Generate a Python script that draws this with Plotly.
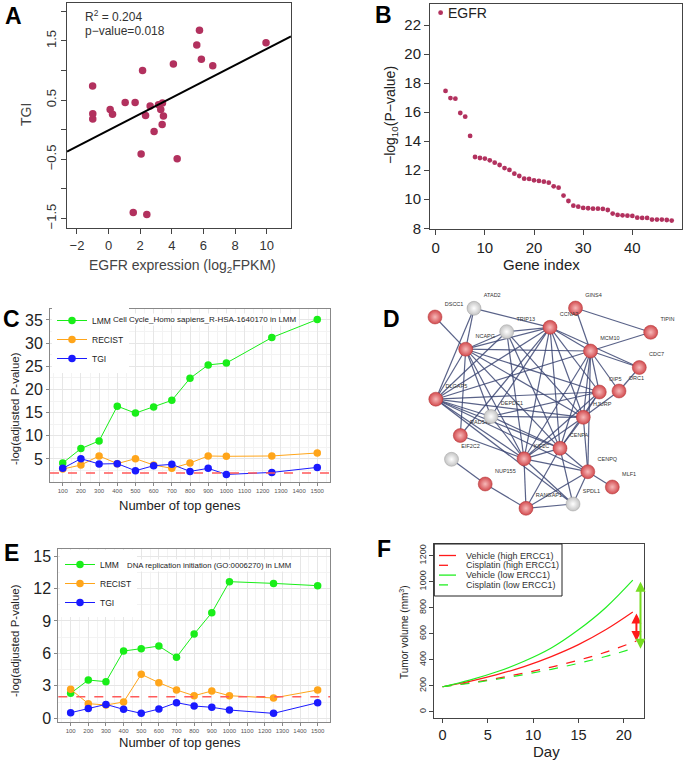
import numpy as np
import plotly.graph_objects as go

FONT = "Liberation Sans, Arial, sans-serif"
W, H = 685, 761

# ---------------- Panel A data ----------------
A_egfr = [5.75, 5.58, 9.96, 5.87, 6.59, 4.10, 2.15, -1.01, -1.00, -1.00, 0.10, 0.25, 1.05,
          1.68, 2.63, 2.34, 3.16, 3.30, 3.41, 3.47, 3.39, 2.88, 2.06, 4.34, 1.56, 2.42]
A_tgi = [1.68, 1.43, 1.47, 1.19, 1.08, 1.11, 1.00, 0.74, 0.27, 0.18, 0.34, 0.26, 0.46,
         0.46, 0.40, 0.24, 0.42, 0.34, 0.45, 0.23, 0.09, -0.03, -0.41, -0.49, -1.40, -1.43]
A_r2 = 0.204
A_p = 0.018
A_xticks = [-2, 0, 2, 4, 6, 8, 10]
A_yticks = [-1.5, -0.5, 0.5, 1.5]
A_yminor = [-1.0, 0.0, 1.0, 2.0]

# ---------------- Panel B data ----------------
B_logp = [22.85, 17.46, 16.97, 16.93, 15.94, 15.69, 14.36, 12.91, 12.84, 12.80, 12.68, 12.52,
          12.36, 12.15, 12.02, 11.76, 11.60, 11.42, 11.40, 11.30, 11.26, 11.21, 11.14, 10.89,
          10.80, 10.25, 9.88, 9.56, 9.49, 9.40, 9.38, 9.35, 9.35, 9.33, 9.26, 9.01, 8.92,
          8.89, 8.87, 8.85, 8.73, 8.71, 8.71, 8.60, 8.60, 8.60, 8.57, 8.53]
B_index = list(range(1, len(B_logp) + 1))
B_top_gene = "EGFR"

# ---------------- Panel C / E data ----------------
top_genes = [100, 200, 300, 400, 500, 600, 700, 800, 900, 1000, 1250, 1500]
C_lmm = [4.13, 7.24, 8.9, 16.4, 14.9, 16.2, 17.65, 22.4, 25.3, 25.7, 31.2, 35.1]
C_recist = [2.83, 3.7, 5.65, 4.0, 5.07, 3.7, 2.98, 4.13, 5.65, 5.58, 5.65, 6.3]
C_tgi = [2.98, 5.07, 3.92, 4.0, 2.47, 3.55, 3.84, 2.32, 2.98, 1.67, 2.1, 3.19]
C_title = "Cell Cycle_Homo sapiens_R-HSA-1640170 in LMM"

E_lmm = [2.31, 3.54, 3.39, 6.22, 6.44, 6.68, 5.64, 7.79, 9.76, 12.63, 12.47, 12.26]
E_recist = [2.68, 1.36, 1.23, 1.51, 4.07, 3.30, 2.62, 2.09, 2.53, 2.09, 1.88, 2.62]
E_tgi = [0.52, 0.92, 1.29, 0.83, 0.46, 0.86, 1.45, 1.14, 1.02, 0.77, 0.46, 1.45]
E_title = "DNA replication initiation (GO:0006270) in LMM"
threshold = 2.0

# ---------------- Panel D data (network) ----------------
D_nodes = ["DSCC1", "ATAD2", "GINS4", "TRIP13", "CCNA2", "TIPIN", "NCAPG", "MCM10", "CDC7",
           "DLGAP5", "ORC1", "OIP5", "DEPDC1", "HJURP", "RAD54L", "CENPA", "KIF2C", "EIF2C2",
           "CENPQ", "NUP155", "MLF1", "RANGAP1", "SPDL1"]
D_x = [435, 474, 575.5, 506.7, 550, 650.7, 465.7, 590.5, 639.3, 435.8, 619, 599.3, 491,
       583.3, 460.3, 560, 524, 451.5, 587.8, 485.2, 612.3, 526, 573]
D_y = [317, 308.3, 308, 331.7, 327.3, 332.3, 349.2, 351, 367.5, 399.2, 391, 392, 416.5,
       417.3, 435.5, 448.3, 458.8, 459.3, 471.7, 484, 487, 508.3, 504]
D_grey = ["ATAD2", "TRIP13", "DEPDC1", "EIF2C2", "SPDL1"]
D_edges = [
    ("DSCC1", "NCAPG"), ("ATAD2", "NCAPG"), ("ATAD2", "DLGAP5"), ("ATAD2", "CCNA2"),
    ("GINS4", "MCM10"), ("GINS4", "TIPIN"), ("TIPIN", "MCM10"), ("MCM10", "CDC7"),
    ("CCNA2", "CDC7"), ("CDC7", "ORC1"), ("ORC1", "MCM10"), ("ORC1", "HJURP"),
    ("OIP5", "MCM10"), ("EIF2C2", "NUP155"), ("NUP155", "RANGAP1"), ("RANGAP1", "SPDL1"),
    ("RANGAP1", "KIF2C"), ("RANGAP1", "CENPQ"), ("RANGAP1", "CENPA"), ("SPDL1", "KIF2C"),
    ("SPDL1", "CENPA"), ("SPDL1", "CENPQ"), ("SPDL1", "DLGAP5"), ("MLF1", "CENPQ"),
    ("CENPQ", "HJURP"), ("CENPQ", "CENPA"), ("CENPQ", "KIF2C"), ("CENPQ", "MCM10"),
    ("CENPQ", "DLGAP5"), ("RAD54L", "KIF2C"), ("RAD54L", "NCAPG"), ("RAD54L", "CCNA2"),
    ("DLGAP5", "KIF2C"), ("DLGAP5", "CENPA"), ("DLGAP5", "HJURP"), ("DLGAP5", "OIP5"),
    ("DLGAP5", "CCNA2"), ("DLGAP5", "MCM10"), ("DLGAP5", "NCAPG"), ("DLGAP5", "DEPDC1"),
    ("DLGAP5", "TRIP13"), ("NCAPG", "CCNA2"), ("NCAPG", "MCM10"), ("NCAPG", "OIP5"),
    ("NCAPG", "HJURP"), ("NCAPG", "CENPA"), ("NCAPG", "KIF2C"), ("NCAPG", "DEPDC1"),
    ("NCAPG", "TRIP13"), ("CCNA2", "MCM10"), ("CCNA2", "OIP5"), ("CCNA2", "HJURP"),
    ("CCNA2", "CENPA"), ("CCNA2", "KIF2C"), ("CCNA2", "DEPDC1"), ("CCNA2", "TRIP13"),
    ("TRIP13", "KIF2C"), ("TRIP13", "CENPA"), ("TRIP13", "HJURP"), ("MCM10", "KIF2C"),
    ("MCM10", "CENPA"), ("MCM10", "HJURP"), ("OIP5", "KIF2C"), ("OIP5", "CENPA"),
    ("OIP5", "HJURP"), ("OIP5", "DEPDC1"), ("HJURP", "KIF2C"), ("HJURP", "CENPA"),
    ("HJURP", "DEPDC1"), ("KIF2C", "CENPA"), ("KIF2C", "DEPDC1"), ("DEPDC1", "CENPA"),
]

# ---------------- Panel F data ----------------
F_day = [0, 3, 6, 9, 12, 15, 18, 21]
F_veh_high = [192, 234, 285, 347, 424, 516, 630, 767]
F_veh_low = [192, 243, 307, 388, 490, 630, 800, 1012]
F_cis_low = [192, 219, 250, 286, 326, 372, 425, 485]
F_day_cis_high = [0, 3, 6, 9, 12, 15, 18, 21.4]
F_cis_high = [192, 222, 257, 297, 343, 396, 458, 544]


def px(x):
    return x / W


def py(y):
    return 1 - y / H


fig = go.Figure()

# ---------- A ----------
fig.add_trace(go.Scatter(x=A_egfr, y=A_tgi, mode="markers", xaxis="x", yaxis="y",
                         marker=dict(color="#b2315e", size=7.5), showlegend=False))
A_xr = [-2.63, 11.54]
slope, intercept = np.polyfit(A_egfr, A_tgi, 1)
fig.add_trace(go.Scatter(x=A_xr, y=[intercept + slope * v for v in A_xr], mode="lines",
                         xaxis="x", yaxis="y", line=dict(color="black", width=2),
                         showlegend=False))

# ---------- B ----------
fig.add_trace(go.Scatter(x=B_index, y=B_logp, mode="markers", xaxis="x2", yaxis="y2",
                         marker=dict(color="#b2315e", size=4.8), showlegend=False))

# ---------- C & E ----------
series_cols = {"LMM": "#19ee19", "RECIST": "#ffa51a", "TGI": "#1a1aff"}
for name, vals in [("LMM", C_lmm), ("RECIST", C_recist), ("TGI", C_tgi)]:
    fig.add_trace(go.Scatter(x=top_genes, y=vals, mode="lines+markers", name=name,
                             xaxis="x3", yaxis="y3", legend="legend",
                             line=dict(color=series_cols[name], width=1),
                             marker=dict(color=series_cols[name], size=7.5)))
for name, vals in [("LMM", E_lmm), ("RECIST", E_recist), ("TGI", E_tgi)]:
    fig.add_trace(go.Scatter(x=top_genes, y=vals, mode="lines+markers", name=name,
                             xaxis="x5", yaxis="y5", legend="legend2",
                             line=dict(color=series_cols[name], width=1),
                             marker=dict(color=series_cols[name], size=7.5)))

# ---------- D ----------
pos = {n: (x, y) for n, x, y in zip(D_nodes, D_x, D_y)}
ex, ey = [], []
for a, b in D_edges:
    ex += [pos[a][0], pos[b][0], None]
    ey += [pos[a][1], pos[b][1], None]
fig.add_trace(go.Scatter(x=ex, y=ey, mode="lines", xaxis="x4", yaxis="y4",
                         line=dict(color="rgba(60,70,115,0.85)", width=1.2),
                         showlegend=False, hoverinfo="skip", cliponaxis=False))
for grey in [False, True]:
    sel = [i for i, n in enumerate(D_nodes) if (n in D_grey) == grey]
    fig.add_trace(go.Scatter(
        x=[D_x[i] for i in sel], y=[D_y[i] for i in sel], text=[D_nodes[i] for i in sel],
        mode="markers+text", textposition="top right", xaxis="x4", yaxis="y4",
        textfont=dict(size=5.5, color="#333333"), cliponaxis=False,
        marker=dict(size=14, color="#c4c4c4" if grey else "#d24a4e",
                    gradient=dict(type="radial", color="#ffffff" if grey else "#f7b9b9"),
                    line=dict(width=0.5, color="#a0a0a0" if grey else "#b03535")),
        showlegend=False))

# ---------- F ----------
F_series = [
    ("Vehicle (high ERCC1)", F_day, F_veh_high, "#ff1a1a", "solid"),
    ("Cisplatin (high ERCC1)", F_day_cis_high, F_cis_high, "#ff1a1a", "dash"),
    ("Vehicle (low ERCC1)", F_day, F_veh_low, "#22ee22", "solid"),
    ("Cisplatin (low ERCC1)", F_day, F_cis_low, "#22ee22", "dash"),
]
for name, xd, yd, col, dash in F_series:
    fig.add_trace(go.Scatter(x=xd, y=yd, mode="lines", name=name, xaxis="x6", yaxis="y6",
                             showlegend=False, line=dict(color=col, dash=dash, width=1.2,
                                                         shape="spline")))

# ---------- axes ----------
rstyle = dict(showline=True, mirror=True, linecolor="#444444", linewidth=1, ticks="outside",
              ticklen=5, tickcolor="#444444", showgrid=False, zeroline=False,
              automargin=False, tickfont=dict(size=13, color="#333333", family=FONT))
gstyle = dict(showline=True, mirror=True, linecolor="#888888", linewidth=1, ticks="outside",
              ticklen=3, tickcolor="#888888", showgrid=True, gridcolor="#e6e6e6",
              gridwidth=0.8, zeroline=False, automargin=False)

layout = dict(
    width=W, height=H, margin=dict(l=0, r=0, t=0, b=0), autosize=False,
    paper_bgcolor="white", plot_bgcolor="white", font=dict(family=FONT, color="#222222"),
    xaxis=dict(domain=[px(67), px(291)], range=A_xr, anchor="y", tickvals=A_xticks,
               ticktext=[str(v).replace("-", "\u2212") for v in A_xticks], **rstyle),
    yaxis=dict(domain=[py(228), py(3)], range=[-1.66, 2.14], anchor="x", tickvals=A_yticks,
               ticktext=[("%.1f" % v).replace("-", "\u2212") for v in A_yticks], tickangle=-90,
               minor=dict(tickvals=A_yminor, ticks="outside", ticklen=5, tickcolor="#444444"),
               **rstyle),
    xaxis2=dict(domain=[px(430), px(682)], range=[-1.16, 50.1], anchor="y2",
                tickvals=[0, 10, 20, 30, 40], **{**rstyle, "tickfont": dict(size=15, color="#222222")}),
    yaxis2=dict(domain=[py(229), py(4)], range=[7.95, 23.45], anchor="x2",
                tickvals=list(range(8, 23, 2)), **{**rstyle, "tickfont": dict(size=15, color="#222222")}),
    xaxis3=dict(domain=[px(50), px(330)], range=[30, 1570], anchor="y3", tickmode="linear",
                tick0=100, dtick=100, tickfont=dict(size=6, color="#555555"),
                minor=dict(dtick=50, tick0=0, showgrid=True, gridcolor="#f3f3f3", gridwidth=0.6),
                **gstyle),
    yaxis3=dict(domain=[py(481.7), py(309.3)], range=[0.1, 37.3], anchor="x3", tickmode="linear",
                tick0=0, dtick=5, tickfont=dict(size=16, color="#222222"),
                minor=dict(dtick=2.5, tick0=0, showgrid=True, gridcolor="#f3f3f3", gridwidth=0.6),
                **gstyle),
    xaxis4=dict(domain=[px(400), px(680)], range=[400, 680], anchor="y4", visible=False),
    yaxis4=dict(domain=[py(530), py(295)], range=[530, 295], anchor="x4", visible=False),
    xaxis5=dict(domain=[px(58.3), px(330)], range=[30, 1570], anchor="y5", tickmode="linear",
                tick0=100, dtick=100, tickfont=dict(size=6, color="#555555"),
                minor=dict(dtick=50, tick0=0, showgrid=True, gridcolor="#f3f3f3", gridwidth=0.6),
                **gstyle),
    yaxis5=dict(domain=[py(721.7), py(549.3)], range=[-0.31, 15.62], anchor="x5", tickmode="linear",
                tick0=0, dtick=3, tickfont=dict(size=16, color="#222222"),
                minor=dict(dtick=1.5, tick0=0, showgrid=True, gridcolor="#f3f3f3", gridwidth=0.6),
                **gstyle),
    xaxis6=dict(domain=[px(434.3), px(644.3)], range=[-0.91, 22.27], anchor="y6",
                tickvals=[0, 5, 10, 15, 20],
                **{**rstyle, "ticklen": 4, "tickfont": dict(size=14.5, color="#222222")}),
    yaxis6=dict(domain=[py(717.7), py(544)], range=[-46, 1290], anchor="x6",
                tickvals=list(range(0, 1201, 200)), tickangle=-90,
                **{**rstyle, "ticklen": 4, "tickfont": dict(size=9, color="#333333")}),
    legend=dict(x=px(52), y=py(306), xanchor="left", yanchor="top", bgcolor="white",
                font=dict(size=8.5, color="#222222"), tracegroupgap=0, itemwidth=30),
    legend2=dict(x=px(60), y=py(550), xanchor="left", yanchor="top", bgcolor="white",
                 font=dict(size=8.5, color="#222222"), tracegroupgap=0, itemwidth=30),
)
fig.update_layout(**layout)

# threshold lines
for xa, ya in [("x3", "y3"), ("x5", "y5")]:
    fig.add_shape(type="line", xref=xa + " domain", yref=ya, x0=0, x1=1, y0=threshold,
                  y1=threshold, line=dict(color="#ff5a5a", width=1.5, dash="dash"))

ann = []


def text(x, y, s, size, rot=0, color="#222222", bold=False, xanchor="center", bg=None):
    d = dict(x=px(x), y=py(y), xref="paper", yref="paper", text=("<b>%s</b>" % s) if bold else s,
             showarrow=False, textangle=rot, xanchor=xanchor, yanchor="middle",
             font=dict(size=size, color=color, family=FONT))
    if bg:
        d["bgcolor"] = bg
    ann.append(d)


# F legend (compact key, drawn as a boxed key with line samples)
fig.add_shape(type="rect", xref="paper", yref="paper", x0=px(434.3), x1=px(562),
              y0=py(596), y1=py(544), fillcolor="white", line=dict(color="#222222", width=1),
              layer="above")
for k, (name, xd, yd, col, dash) in enumerate(F_series):
    yy = 555.5 + k * 9.8
    fig.add_shape(type="line", xref="paper", yref="paper", x0=px(439), x1=px(456),
                  y0=py(yy), y1=py(yy), line=dict(color=col, dash=dash, width=1.3),
                  layer="above")
    text(464, yy, name, 9, xanchor="left", color="#333333")

# panel letters
for lab, x, y in [("A", 13, 16), ("B", 383, 15), ("C", 11, 319), ("D", 391, 319),
                  ("E", 11, 553), ("F", 384, 549)]:
    text(x, y, lab, 23, bold=True, color="black")

# A texts
text(83, 16, "R<sup>2</sup> = %.3f" % A_r2, 12, xanchor="left", color="#333333")
text(83, 31, "p\u2212value=%.3f" % A_p, 12, xanchor="left", color="#333333")
text(183, 266, "EGFR expression (log<sub>2</sub>FPKM)", 14, color="#444444")
text(26, 115, "TGI", 14, rot=-90, color="#444444")
# B texts
ann.append(dict(x=B_index[0], y=B_logp[0], xref="x2", yref="y2", text=B_top_gene,
                showarrow=False, xanchor="left", yanchor="middle", xshift=5,
                font=dict(size=14, color="#222222", family=FONT)))
text(541, 264, "Gene index", 15)
text(391, 115, "\u2212log<sub>10</sub>(P\u2212value)", 14, rot=-90)
# C texts
text(205, 320, C_title, 8, bg="white")
text(180, 506, "Number of top genes", 13)
text(15, 409, "-log(adjusted P-value)", 11.5, rot=-90)
# E texts
text(209, 565, E_title, 7.8, bg="white")
text(180, 742, "Number of top genes", 13)
text(15, 641, "-log(adjusted P-value)", 11.5, rot=-90)
# F texts
text(546, 751, "Day", 15)
text(404, 632, "Tumor volume (mm<sup>3</sup>)", 10, rot=-90)

# F arrows (vehicle vs cisplatin gap at end of follow-up)
for xv, top, bot, col in [(21.4, F_veh_high[-1], F_cis_high[-1], "#ff1a1a"),
                          (21.85, F_veh_low[-1], F_cis_low[-1], "#77dd22")]:
    ann.append(dict(x=xv, y=bot, ax=xv, ay=top, xref="x6", yref="y6", axref="x6", ayref="y6",
                    text="", showarrow=True, arrowhead=2, arrowside="end+start", arrowsize=1,
                    arrowwidth=2, arrowcolor=col, standoff=0, startstandoff=0))

fig.update_layout(annotations=ann)
fig.write_html("out.html", config={"displayModeBar": False},
               post_script="document.body.style.margin='0px';document.body.style.padding='0px';"
                           "document.documentElement.style.overflow='hidden';")
